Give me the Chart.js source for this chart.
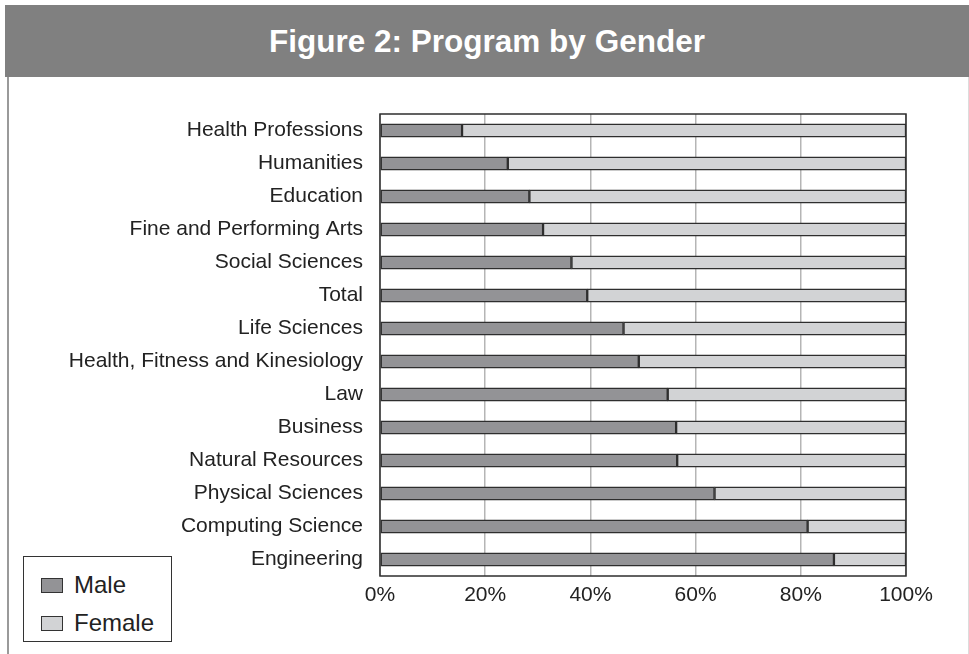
<!DOCTYPE html>
<html>
<head>
<meta charset="utf-8">
<title>Figure 2: Program by Gender</title>
<script src="https://cdn.jsdelivr.net/npm/chart.js@4.4.1/dist/chart.umd.min.js"></script>
<style>
    html, body { margin: 0; padding: 0; background: #fff; }
    body { width: 969px; height: 654px; position: relative; overflow: hidden; font-family: "Liberation Sans", Arial, sans-serif; }
    #frame { position: absolute; left: 7px; top: 5px; width: 959px; height: 649px; border-left: 2px solid #9a9a9a; border-right: 2px solid #dcdcdc; }
    #title { position: absolute; left: 5px; top: 5px; width: 964px; height: 72px; background: #808080; color: #fff;
        font-weight: bold; font-size: 31.5px; line-height: 72px; text-align: center; }
    #chartBox { position: absolute; left: 0; top: 0; width: 969px; height: 654px; }
    #legend { position: absolute; left: 23px; top: 556px; width: 147px; height: 84px; border: 1.5px solid #333; background: #fff; }
    #legend .item { position: absolute; left: 17px; height: 30px; font-size: 24px; color: #222; line-height: 30px; }
    #legend .swatch { display: inline-block; width: 20px; height: 13px; border: 1.5px solid #333; vertical-align: middle; margin-right: 11px; margin-top: -3px; }
</style>
</head>
<body>
<div id="frame"></div>
<div id="title">Figure 2: Program by Gender</div>
<div id="chartBox"><canvas id="genderChart" width="969" height="654"></canvas></div>
<div id="legend"></div>

<script>
// categorías (de arriba hacia abajo)
const programs = [
    'Health Professions', 'Humanities', 'Education', 'Fine and Performing Arts',
    'Social Sciences', 'Total', 'Life Sciences', 'Health, Fitness and Kinesiology',
    'Law', 'Business', 'Natural Resources', 'Physical Sciences',
    'Computing Science', 'Engineering'
];
const maleShare = [15.6, 24.3, 28.4, 31.0, 36.4, 39.4, 46.3, 49.2, 54.7, 56.3, 56.5, 63.6, 81.3, 86.3];
const femaleShare = [84.4, 75.7, 71.6, 69.0, 63.6, 60.6, 53.7, 50.8, 45.3, 43.7, 43.5, 36.4, 18.7, 13.7];
const xTickLabels = ['0%', '20%', '40%', '60%', '80%', '100%'];
const seriesNames = ['Male', 'Female'];

const maleColor = '#939396';
const femaleColor = '#d2d3d5';
const edgeColor = '#2e2e2e';

// marco del área de gráfico
const plotFrame = {
    id: 'plotFrame',
    afterDatasetsDraw(chart) {
        const a = chart.chartArea;
        const ctx = chart.ctx;
        ctx.save();
        ctx.strokeStyle = edgeColor;
        ctx.lineWidth = 1.5;
        ctx.strokeRect(a.left, a.top, a.right - a.left, a.bottom - a.top);
        ctx.restore();
    }
};

document.addEventListener('DOMContentLoaded', () => {
    const canvas = document.querySelector('#genderChart');
    if (!canvas) {
        console.error('canvas #genderChart not found');
        return;
    }

    const chart = new Chart(canvas, {
        type: 'bar',
        data: {
            labels: programs,
            datasets: [{
                label: seriesNames[0],
                data: maleShare,
                backgroundColor: maleColor,
                borderColor: edgeColor,
                borderWidth: 1.5,
                borderSkipped: false,
                barThickness: 13.5
            }, {
                label: seriesNames[1],
                data: femaleShare,
                backgroundColor: femaleColor,
                borderColor: edgeColor,
                borderWidth: 1.5,
                borderSkipped: false,
                barThickness: 13.5
            }]
        },
        options: {
            indexAxis: 'y',
            responsive: false,
            animation: false,
            layout: { padding: { top: 114, right: 63, left: 0, bottom: 0 } },
            scales: {
                x: {
                    stacked: true,
                    min: 0,
                    max: 100,
                    afterFit: (scale) => { scale.height = 78; },
                    grid: { color: '#b5b5b5', lineWidth: 1.5, drawTicks: false },
                    border: { display: false },
                    ticks: {
                        stepSize: 20,
                        padding: 7,
                        color: '#222',
                        font: { family: 'Liberation Sans, Arial, sans-serif', size: 21 },
                        callback: (value) => xTickLabels[value / 20]
                    }
                },
                y: {
                    stacked: true,
                    afterFit: (scale) => { scale.width = 380; },
                    grid: { display: false, drawTicks: false },
                    border: { display: false },
                    ticks: {
                        padding: 17,
                        color: '#222',
                        font: { family: 'Liberation Sans, Arial, sans-serif', size: 21 }
                    }
                }
            },
            plugins: {
                legend: { display: false },
                tooltip: { enabled: false }
            }
        },
        plugins: [plotFrame]
    });

    // leyenda html a partir de los datasets
    const legendBox = document.querySelector('#legend');
    chart.data.datasets.forEach((ds, i) => {
        const item = document.createElement('div');
        item.className = 'item';
        item.style.top = (13 + i * 38) + 'px';
        const sw = document.createElement('span');
        sw.className = 'swatch';
        sw.style.background = ds.backgroundColor;
        item.appendChild(sw);
        item.appendChild(document.createTextNode(ds.label));
        legendBox.appendChild(item);
    });
});
</script>
</body>
</html>
